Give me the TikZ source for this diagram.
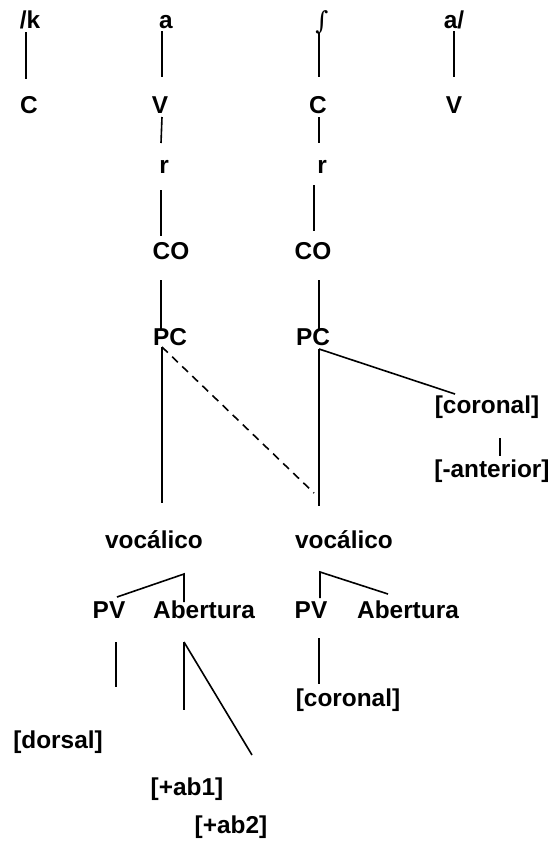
\documentclass[tikz,border=0pt]{standalone}
\usepackage{fontspec}
\setmainfont{Liberation Sans}
\newfontfamily\intfont{DejaVu Serif}
\begin{document}
\begin{tikzpicture}[x=1pt,y=-1pt,
  lbl/.style={anchor=base,inner sep=0pt,font=\bfseries\fontsize{24.4}{28}\selectfont},
  ln/.style={line width=1.6pt},
  dln/.style={line width=1.6pt,dash pattern=on 8pt off 6pt}]
\useasboundingbox (0,0) rectangle (548,841);
% texts
\node[lbl] (k) at (30,28) {/k};
\node[lbl] (a1) at (166,28) {a};
\node[anchor=base,inner sep=0pt,font=\intfont\fontsize{25}{28}\selectfont] (sh) at (322,29) {∫};
\node[lbl] (a2) at (454,28) {a/};
\node[lbl] (C1) at (29,113) {C};
\node[lbl] (V1) at (160,113) {V};
\node[lbl] (C2) at (318,113) {C};
\node[lbl] (V2) at (454,113) {V};
\node[lbl] (r1) at (164,173) {r};
\node[lbl] (r2) at (322,173) {r};
\node[lbl] (CO1) at (171,259) {CO};
\node[lbl] (CO2) at (313,259) {CO};
\node[lbl] (PC1) at (170,345) {PC};
\node[lbl] (PC2) at (313,345) {PC};
\node[lbl] (cor1) at (487,413) {[coronal]};
\node[lbl] (ant) at (492,477) {[-anterior]};
\node[lbl] (voc1) at (154,548) {vocálico};
\node[lbl] (voc2) at (344,548) {vocálico};
\node[lbl] (PV1) at (109,618) {PV};
\node[lbl] (Ab1) at (204,618) {Abertura};
\node[lbl] (PV2) at (311,618) {PV};
\node[lbl] (Ab2) at (408,618) {Abertura};
\node[lbl] (cor2) at (348,706) {[coronal]};
\node[lbl] (dor) at (58,748) {[dorsal]};
\node[lbl] (ab1) at (187,795) {[+ab1]};
\node[lbl] (ab2) at (231,833) {[+ab2]};
% line end points
\coordinate (p1a) at (26,32);  \coordinate (p1b) at (26,79);
\coordinate (p2a) at (162,31); \coordinate (p2b) at (162,77);
\coordinate (p3a) at (319,33); \coordinate (p3b) at (319,77);
\coordinate (p4a) at (454,31); \coordinate (p4b) at (454,77);
\coordinate (p5a) at (162,117); \coordinate (p5b) at (161,143);
\coordinate (p6a) at (319,117); \coordinate (p6b) at (319,143);
\coordinate (p7a) at (161,190); \coordinate (p7b) at (161,236);
\coordinate (p8a) at (314,185); \coordinate (p8b) at (314,231);
\coordinate (p9a) at (161,280); \coordinate (p9b) at (161,330);
\coordinate (p10a) at (319,280); \coordinate (p10b) at (319,330);
\coordinate (pc1) at (162,347); \coordinate (pc1b) at (162,503);
\coordinate (dsh) at (314,493);
\coordinate (pc2) at (319,349); \coordinate (pc2b) at (319,506);
\coordinate (cr) at (455,394);
\coordinate (an1) at (500,438); \coordinate (an2) at (500,456);
\coordinate (v1l) at (117,597); \coordinate (v1t) at (184,574); \coordinate (v1r) at (184,602);
\coordinate (v2l) at (320,598); \coordinate (v2t) at (320,572); \coordinate (v2r) at (388,594);
\coordinate (d1) at (116,642); \coordinate (d2) at (116,687);
\coordinate (b0) at (184,642); \coordinate (b1) at (184,710); \coordinate (b2) at (252,755);
\coordinate (c1) at (319,638); \coordinate (c2) at (319,684);
% connectors
\draw[ln] (p1a) -- (p1b);
\draw[ln] (p2a) -- (p2b);
\draw[ln] (p3a) -- (p3b);
\draw[ln] (p4a) -- (p4b);
\draw[ln] (p5a) -- (p5b);
\draw[ln] (p6a) -- (p6b);
\draw[ln] (p7a) -- (p7b);
\draw[ln] (p8a) -- (p8b);
\draw[ln] (p9a) -- (p9b);
\draw[ln] (p10a) -- (p10b);
\draw[ln] (pc1) -- (pc1b);
\draw[dln] (pc1) -- (dsh);
\draw[ln] (pc2) -- (pc2b);
\draw[ln] (pc2) -- (cr);
\draw[ln] (an1) -- (an2);
\draw[ln] (v1l) -- (v1t) -- (v1r);
\draw[ln] (v2l) -- (v2t) -- (v2r);
\draw[ln] (d1) -- (d2);
\draw[ln] (b0) -- (b1);
\draw[ln] (b0) -- (b2);
\draw[ln] (c1) -- (c2);
\end{tikzpicture}
\end{document}
